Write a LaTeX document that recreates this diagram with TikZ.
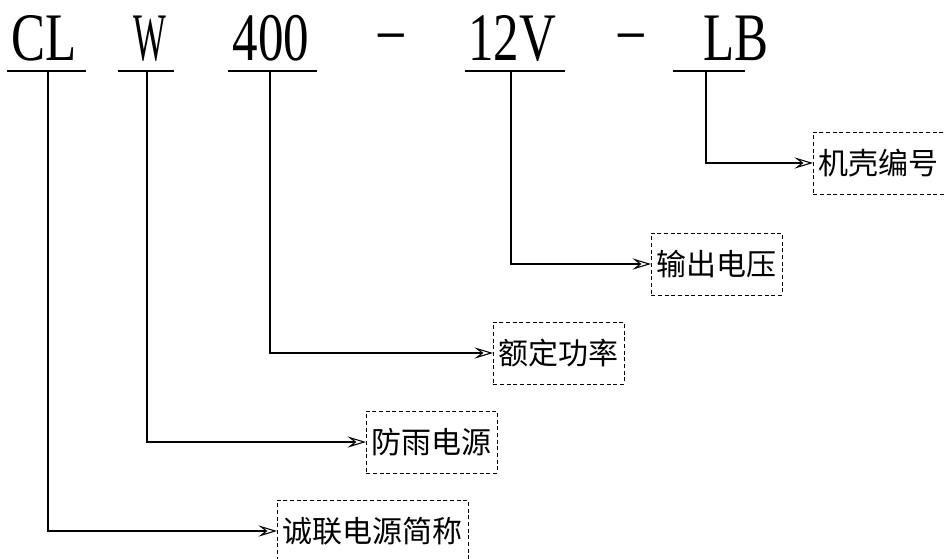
\documentclass[tikz,border=0pt]{standalone}
\usepackage{fontspec}
\newfontfamily\codefont[FakeStretch=0.75]{Liberation Serif}
\newfontfamily\cjk{Noto Sans CJK SC}
\usetikzlibrary{arrows.meta,positioning}

\begin{document}
\begin{tikzpicture}[
    x=0.75pt, y=-0.75pt,
    % Style for the parts of the model code
    code part/.style={
        font=\codefont\fontsize{51}{51}\selectfont,
        inner sep=0pt, anchor=base
    },
    % Style for the dashed explanation boxes
    label box/.style={
        draw, dash pattern=on 3pt off 2pt, line width=0.7pt,
        font=\cjk\fontsize{22.5}{22.5}\selectfont,
        inner xsep=4pt, minimum height=46.5pt, anchor=west
    },
    % Style for the leader lines
    leader/.style={
        line width=0.8pt,
        -{Stealth[open, length=14pt, width=8.5pt, inset=5.5pt]}
    }
]
    \useasboundingbox (0,0) rectangle (944,558);

    % Model code: CL W 400 - 12V - LB
    \node[code part] (cl)    at (44,60)  {CL};
    \node[code part] (w)     at (150,60) {\scalebox{0.68}[1]{W}};
    \node[code part] (power) at (271,60) {400};
    \node[code part] (dashA) at (391,51) {–};
    \node[code part] (volt)  at (512,60) {12V};
    \node[code part] (dashB) at (631,51) {–};
    \node[code part] (lb)    at (736,60) {LB};

    % Underlines below each part
    \draw[line width=0.8pt] (7,71) -- (86,71);
    \draw[line width=0.8pt] (118,71) -- (174,71);
    \draw[line width=0.8pt] (228,71) -- (317,71);
    \draw[line width=0.8pt] (465,71) -- (565,71);
    \draw[line width=0.8pt] (673,71) -- (745,71);

    % Tap points on the underlines
    \coordinate (clTap)    at (48,71);
    \coordinate (wTap)     at (147,71);
    \coordinate (powerTap) at (270,71);
    \coordinate (voltTap)  at (511,71);
    \coordinate (lbTap)    at (706,71);

    % Explanation boxes
    \node[label box] (caseNo)   at (813,163) {机壳编号};
    \node[label box] (outVolt)  at (651,264) {输出电压};
    \node[label box] (ratedPow) at (493,353) {额定功率};
    \node[label box] (rainPr)   at (366,442) {防雨电源};
    \node[label box] (brand)    at (277,531) {诚联电源简称};

    % Leader lines from the code parts to the boxes
    \draw[leader] (lbTap) |- (caseNo.west);
    \draw[leader] (voltTap) |- (outVolt.west);
    \draw[leader] (powerTap) |- (ratedPow.west);
    \draw[leader] (wTap) |- (rainPr.west);
    \draw[leader] (clTap) |- (brand.west);
\end{tikzpicture}
\end{document}
